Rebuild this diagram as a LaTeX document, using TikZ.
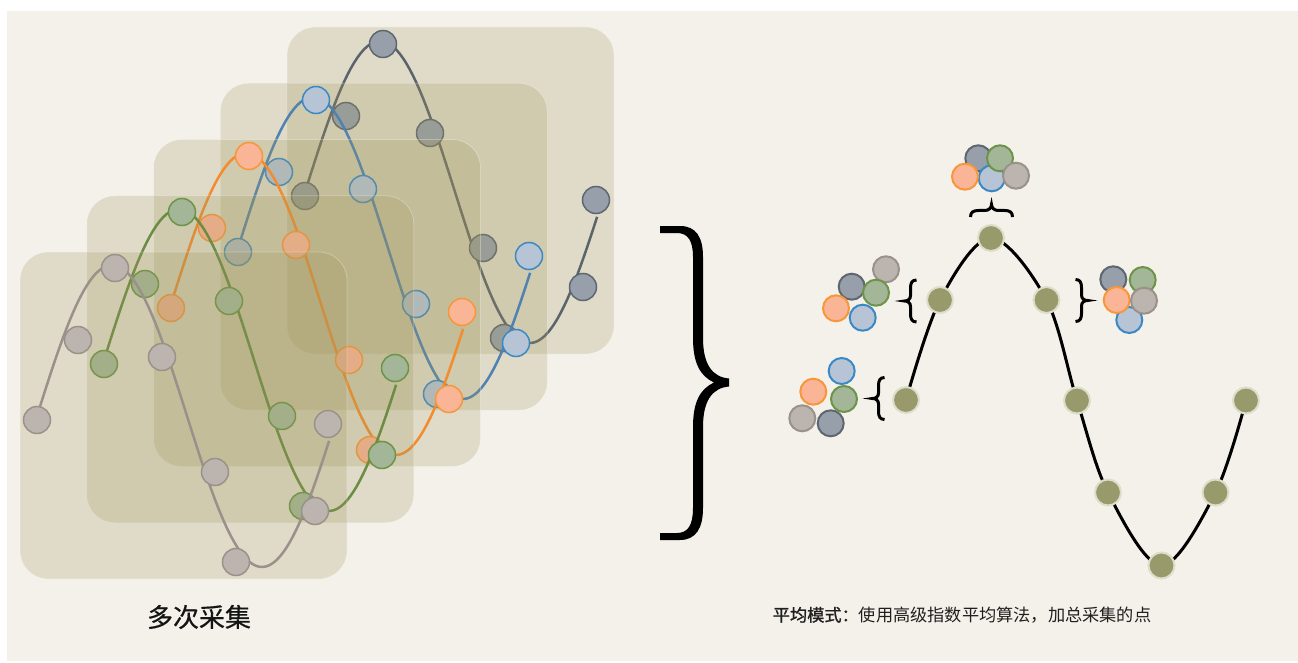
\documentclass[tikz,border=0pt]{standalone}
\usepackage{fontspec}
\newfontfamily\cjk{Noto Sans CJK SC}
\newfontfamily\cjkb[FakeBold=1.2]{Noto Sans CJK SC}
\newfontfamily\cjkm[FakeBold=0.5]{Noto Sans CJK SC}
\definecolor{bgc}{HTML}{F4F1EA}
\definecolor{panelc}{RGB}{160,150,90}
\definecolor{darkF}{HTML}{97A0AA}\definecolor{darkD}{HTML}{5E6670}\definecolor{darkL}{HTML}{5B636B}
\definecolor{blueF}{HTML}{B7C4D5}\definecolor{blueD}{HTML}{3A88C4}\definecolor{blueL}{HTML}{4F82B2}
\definecolor{oranF}{HTML}{F9B595}\definecolor{oranD}{HTML}{F7963A}\definecolor{oranL}{HTML}{F28C2E}
\definecolor{greeF}{HTML}{A3B798}\definecolor{greeD}{HTML}{6C9448}\definecolor{greeL}{HTML}{6A8C45}
\definecolor{grayF}{HTML}{BBB4AF}\definecolor{grayD}{HTML}{9A918A}\definecolor{grayL}{HTML}{9A918A}
\definecolor{avgF}{HTML}{989A6C}\definecolor{avgD}{HTML}{DDDDCA}
\tikzset{
  panel/.style={fill=panelc,fill opacity=0.235,draw=white,draw opacity=0.3,line width=0.8pt,rounded corners=28pt},
  ptbase/.style={circle,inner sep=0pt,minimum size=27pt,line width=1.5pt},
  darkpt/.style={ptbase,fill=darkF,draw=darkD},
  bluept/.style={ptbase,fill=blueF,draw=blueD},
  oranpt/.style={ptbase,fill=oranF,draw=oranD},
  greept/.style={ptbase,fill=greeF,draw=greeD},
  graypt/.style={ptbase,fill=grayF,draw=grayD},
  darkline/.style={draw=darkL,line width=2.5pt},
  blueline/.style={draw=blueL,line width=2.5pt},
  oranline/.style={draw=oranL,line width=2.5pt},
  greeline/.style={draw=greeL,line width=2.5pt},
  grayline/.style={draw=grayL,line width=2.5pt},
  clu/.style={minimum size=26pt,line width=2pt},
  avgpt/.style={circle,inner sep=0pt,minimum size=26pt,fill=avgF,draw=avgD,line width=2pt},
  sbrace/.style={draw=black,line width=3pt},
}
\newcommand\mypanel[2]{\begin{scope}[shift={(#1,#2)}]\path[panel] (20,252) rectangle (347,579);\end{scope}}
\newcommand\myseries[4]{%
  \begin{scope}[shift={(#2,#3)}]
    \draw[#4line] plot[domain=0:0.975,samples=90] ({37+300*\x},{416-151*sin(360*\x)});
    \foreach \px/\py [count=\i] in {37/420,78/340,115/268,162/357,215/472,236/562,315/511,328/424}
      \node[#4pt] (#1\i) at (\px,\py) {};
  \end{scope}}
\newcommand\mybrace[2]{%
  \begin{scope}[shift={#1},xscale=#2]
    \draw[sbrace] (6,-21) .. controls (1.5,-21) and (0,-18) .. (0,-13) -- (0,-5.5) .. controls (0,-2) and (-2.5,0) .. (-6,0) .. controls (-2.5,0) and (0,2) .. (0,5.5) -- (0,13) .. controls (0,18) and (1.5,21) .. (6,21);
  \end{scope}}
\begin{document}
\begin{tikzpicture}[x=1pt,y=-1pt]
\useasboundingbox (0,0) rectangle (1298,663);
\fill[white] (0,0) rectangle (1298,663);
\fill[bgc] (7,11) rectangle (1298,661);
% stacked acquisitions, back to front
\mypanel{267}{-225}
\myseries{d}{268}{-224}{dark}
\mypanel{200.25}{-168.75}
\myseries{b}{201}{-168}{blue}
\mypanel{133.5}{-112.5}
\myseries{o}{134}{-112}{oran}
\mypanel{66.75}{-56.25}
\myseries{g}{67}{-56}{gree}
\mypanel{0}{0}
\myseries{s}{0}{0}{gray}
% big brace
\fill[black] (660,226) -- (680,226) .. controls (696,226) and (703,237) .. (703,257) -- (703,338) .. controls (703,364) and (712,377) .. (729,378.5) -- (729,386.5) .. controls (712,388) and (703,401) .. (703,427) -- (703,508) .. controls (703,528) and (696,540) .. (680,540) -- (660,540) -- (660,533) -- (677,533) .. controls (688,533) and (693,525) .. (693,508) -- (693,427) .. controls (693,402) and (700,389) .. (714,382.5) .. controls (700,376) and (693,363) .. (693,338) -- (693,257) .. controls (693,241) and (688,233) .. (677,233) -- (660,233) -- cycle;
% averaged curve
\coordinate (a1) at (906,400);
\coordinate (a2) at (940,300);
\coordinate (a3) at (991,238);
\coordinate (a4) at (1046.5,300);
\coordinate (a5) at (1077,400.5);
\coordinate (a6) at (1108,492.5);
\coordinate (a7) at (1161.5,565.5);
\coordinate (a8) at (1215.5,492.5);
\coordinate (a9) at (1246,400.5);
\draw[black,line width=3pt] plot[smooth,tension=0.55] coordinates {(a1) (a2) (a3) (a4) (a5) (a6) (a7) (a8) (a9)};
\foreach \i in {1,...,9} \node[avgpt] (A\i) at (a\i) {};
% small braces
\mybrace{(910.5,301)}{1}
\mybrace{(878.5,398.5)}{1}
\mybrace{(1081.5,300.5)}{-1}
\draw[sbrace] (970.5,217) .. controls (970.5,212) and (973.5,210.5) .. (978.5,210.5) -- (985,210.5) .. controls (989,210.5) and (991.5,207.5) .. (991.5,204.5) .. controls (991.5,207.5) and (994,210.5) .. (998,210.5) -- (1004.5,210.5) .. controls (1009.5,210.5) and (1012.5,212) .. (1012.5,217);
% clusters
\node[darkpt,clu] (t1) at (978.3,158.3) {};
\node[bluept,clu] (t2) at (991.7,178.3) {};
\node[greept,clu] (t3) at (1000,158.3) {};
\node[oranpt,clu] (t4) at (965,176.7) {};
\node[graypt,clu] (t5) at (1016,175.7) {};
\node[darkpt,clu] (l1) at (851.7,286.7) {};
\node[graypt,clu] (l2) at (886,269.3) {};
\node[greept,clu] (l3) at (876,292.7) {};
\node[oranpt,clu] (l4) at (836,308.3) {};
\node[bluept,clu] (l5) at (862.7,317.7) {};
\node[bluept,clu] (m1) at (841.7,371) {};
\node[oranpt,clu] (m2) at (813.3,391.7) {};
\node[graypt,clu] (m3) at (802.3,418.3) {};
\node[darkpt,clu] (m4) at (830.7,423.3) {};
\node[greept,clu] (m5) at (844,399) {};
\node[darkpt,clu] (r1) at (1113.3,279.3) {};
\node[greept,clu] (r2) at (1142.7,280) {};
\node[bluept,clu] (r3) at (1129.3,320) {};
\node[oranpt,clu] (r4) at (1116.7,300) {};
\node[graypt,clu] (r5) at (1144,300.7) {};
% labels
\node[font=\cjkm\fontsize{26}{30}\selectfont,text=black!92] (lab1) at (199,617) {多次采集};
\node[font=\cjk\fontsize{17.2}{20}\selectfont,text=black!88] (lab2) at (962,615) {{\cjkb 平均模式：}使用高级指数平均算法，加总采集的点};
\end{tikzpicture}
\end{document}
